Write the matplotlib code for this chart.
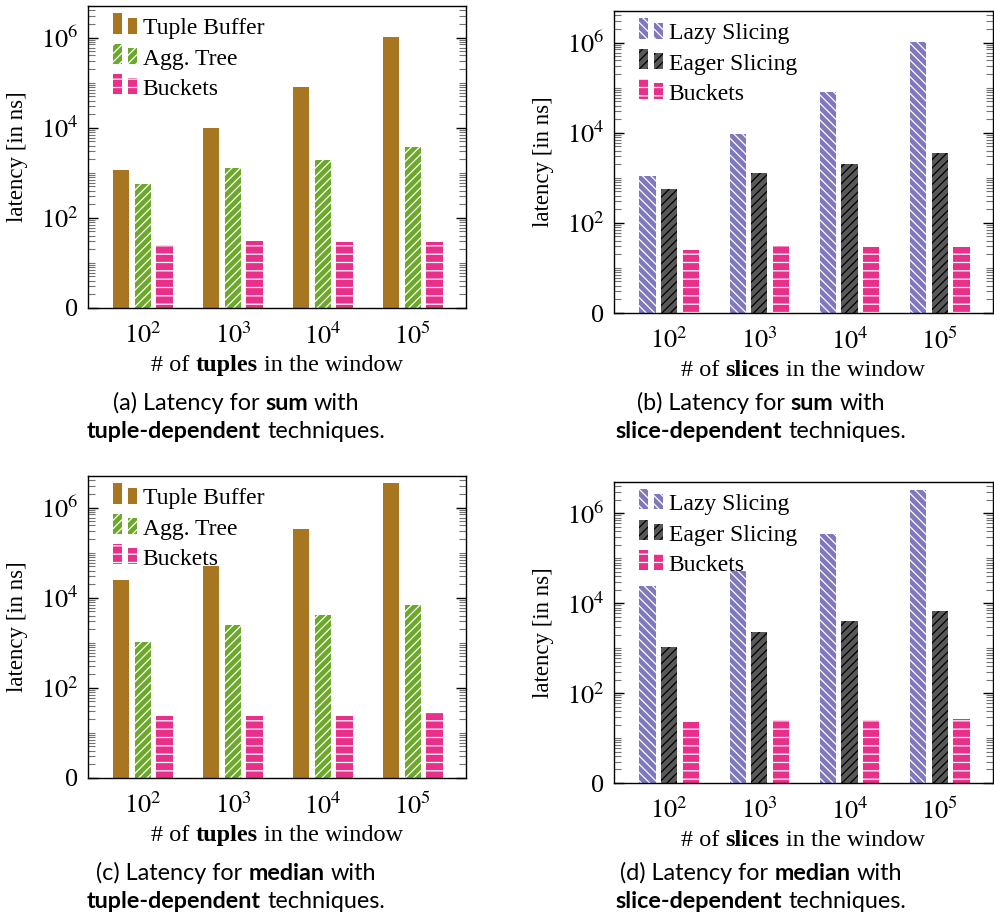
import numpy as np
import matplotlib.pyplot as plt
from matplotlib.patches import Rectangle
from matplotlib.legend_handler import HandlerBase
from matplotlib.container import BarContainer
from matplotlib.ticker import FixedLocator, LogLocator, NullFormatter

plt.rcParams['font.family'] = 'Liberation Serif'
plt.rcParams['mathtext.fontset'] = 'stix'
plt.rcParams['hatch.linewidth'] = 0.9

# x categories (window size)
windows = ['$10^2$', '$10^3$', '$10^4$', '$10^5$']

# (a) sum, tuple-dependent
sum_tuple_buffer = [1150, 9700, 80000, 1.02e6]
sum_agg_tree = [570, 1290, 1950, 3700]
sum_buckets_t = [25, 31, 29, 29]
# (b) sum, slice-dependent
sum_lazy = [1120, 9500, 79000, 1.02e6]
sum_eager = [560, 1290, 1990, 3600]
sum_buckets_s = [25, 31, 29, 29]
# (c) median, tuple-dependent
med_tuple_buffer = [24600, 51000, 341000, 3.47e6]
med_agg_tree = [1050, 2440, 4060, 6900]
med_buckets_t = [23.5, 24, 24, 27]
# (d) median, slice-dependent
med_lazy = [24700, 52000, 347000, 3.4e6]
med_eager = [1050, 2340, 3990, 6760]
med_buckets_s = [23, 24.7, 24.7, 26.5]

# name -> (face, hatch, hatch colour)
styles = {
    'Tuple Buffer': ('#a87621', None, '#a87621'),
    'Agg. Tree': ('#6ca829', '////', 'white'),
    'Buckets': ('#e8308a', '--', 'white'),
    'Lazy Slicing': ('#8078be', '\\\\\\\\', 'white'),
    'Eager Slicing': ('#585858', '////', 'black'),
}

W, H = 995, 915
fig = plt.figure(figsize=(W / 100, H / 100), dpi=100)


class TwoBars(HandlerBase):
    # pgfplots-like ybar legend: two little bars
    def create_artists(self, legend, orig_handle, xdescent, ydescent,
                       width, height, fontsize, trans):
        p = orig_handle.patches[0]
        bw = width * 0.36
        y0 = -ydescent + 0.12 * fontsize
        out = []
        for x0, frac in [(0, 1.0), (width - bw, 0.78)]:
            r = Rectangle((x0 - xdescent, y0), bw, height * frac,
                          facecolor=p.get_facecolor(), edgecolor=p.get_edgecolor(),
                          hatch=p.get_hatch(), linewidth=0, transform=trans)
            out.append(r)
        return out


def px_axes(left, top, right, bottom):
    return fig.add_axes([left / W, 1 - bottom / H, (right - left) / W, (bottom - top) / H])


def rich_text(xc, ybase, parts, size, family):
    r = fig.canvas.get_renderer()
    t1 = fig.text(0, 0, 'a a', size=size, family=family)
    t2 = fig.text(0, 0, 'aa', size=size, family=family)
    sp = t1.get_window_extent(r).width - t2.get_window_extent(r).width
    t1.remove()
    t2.remove()
    texts = [fig.text(0, 1 - ybase / H, s, size=size, family=family,
                      fontweight='bold' if b else 'normal', va='baseline', ha='left')
             for s, b in parts]
    widths = [t.get_window_extent(r).width for t in texts]
    x = xc - (sum(widths) + sp * (len(parts) - 1)) / 2
    for t, w in zip(texts, widths):
        t.set_x(x / W)
        x += w + sp


def panel(ax, series):
    x = np.arange(len(windows))
    bars = []
    for k, (label, vals) in enumerate(series):
        fc, hatch, hc = styles[label]
        b = ax.bar(x + (k - 1) * 0.24, vals, 0.18, color=fc, edgecolor=hc,
                   hatch=hatch, linewidth=0, label=label)
        bars.append(b)
    ax.set_yscale('log')
    ax.set_ylim(1, 5e6)
    ax.set_xlim(-0.61, 3.59)
    ax.set_xticks(x)
    ax.set_xticklabels(windows, fontsize=19)
    ax.yaxis.set_major_locator(FixedLocator([1, 1e2, 1e4, 1e6]))
    ax.set_yticklabels(['0', '$10^2$', '$10^4$', '$10^6$'], fontsize=19)
    ax.yaxis.set_minor_locator(LogLocator(base=10, subs=np.arange(1, 10), numticks=60))
    ax.yaxis.set_minor_formatter(NullFormatter())
    ax.tick_params(axis='x', bottom=False, pad=7)
    ax.tick_params(axis='y', which='both', direction='in', left=True, right=True, pad=7)
    ax.tick_params(axis='y', which='major', length=7, width=1)
    ax.tick_params(axis='y', which='minor', length=5, width=0.8, color='0.45')
    for s in ax.spines.values():
        s.set_linewidth(1)
    ax.set_ylabel('latency [in ns]', fontsize=16.5)
    ax.yaxis.set_label_coords(-0.159, 0.5)
    ax.legend(bars, [lab for lab, _ in series], handler_map={BarContainer: TwoBars()},
              loc='upper left', bbox_to_anchor=(25 / 378, 1 - 10 / 302),
              frameon=False, fontsize=17, handlelength=1.0, handleheight=0.95,
              handletextpad=0.25, labelspacing=0.3, borderpad=0, borderaxespad=0)


ax_a = px_axes(88, 6, 466, 308)
ax_b = px_axes(614, 11, 993, 313)
ax_c = px_axes(88, 476, 466, 778)
ax_d = px_axes(614, 482, 993, 783)

panel(ax_a, [('Tuple Buffer', sum_tuple_buffer), ('Agg. Tree', sum_agg_tree), ('Buckets', sum_buckets_t)])
panel(ax_b, [('Lazy Slicing', sum_lazy), ('Eager Slicing', sum_eager), ('Buckets', sum_buckets_s)])
panel(ax_c, [('Tuple Buffer', med_tuple_buffer), ('Agg. Tree', med_agg_tree), ('Buckets', med_buckets_t)])
panel(ax_d, [('Lazy Slicing', med_lazy), ('Eager Slicing', med_eager), ('Buckets', med_buckets_s)])

serif = 'Liberation Serif'
sans = 'Lato'

# x labels
rich_text(277, 371, [('# of', False), ('tuples', True), ('in the window', False)], 17.5, serif)
rich_text(803, 376, [('# of', False), ('slices', True), ('in the window', False)], 17.5, serif)
rich_text(277, 841, [('# of', False), ('tuples', True), ('in the window', False)], 17.5, serif)
rich_text(803, 846, [('# of', False), ('slices', True), ('in the window', False)], 17.5, serif)

# captions
rich_text(236, 410, [('(a) Latency for', False), ('sum', True), ('with', False)], 16.8, sans)
rich_text(236, 438, [('tuple-dependent', True), ('techniques.', False)], 16.8, sans)
rich_text(761, 410, [('(b) Latency for', False), ('sum', True), ('with', False)], 16.8, sans)
rich_text(761, 438, [('slice-dependent', True), ('techniques.', False)], 16.8, sans)
rich_text(236, 880, [('(c) Latency for', False), ('median', True), ('with', False)], 16.8, sans)
rich_text(236, 908, [('tuple-dependent', True), ('techniques.', False)], 16.8, sans)
rich_text(761, 880, [('(d) Latency for', False), ('median', True), ('with', False)], 16.8, sans)
rich_text(761, 908, [('slice-dependent', True), ('techniques.', False)], 16.8, sans)

fig.savefig('out.png', dpi=100)
